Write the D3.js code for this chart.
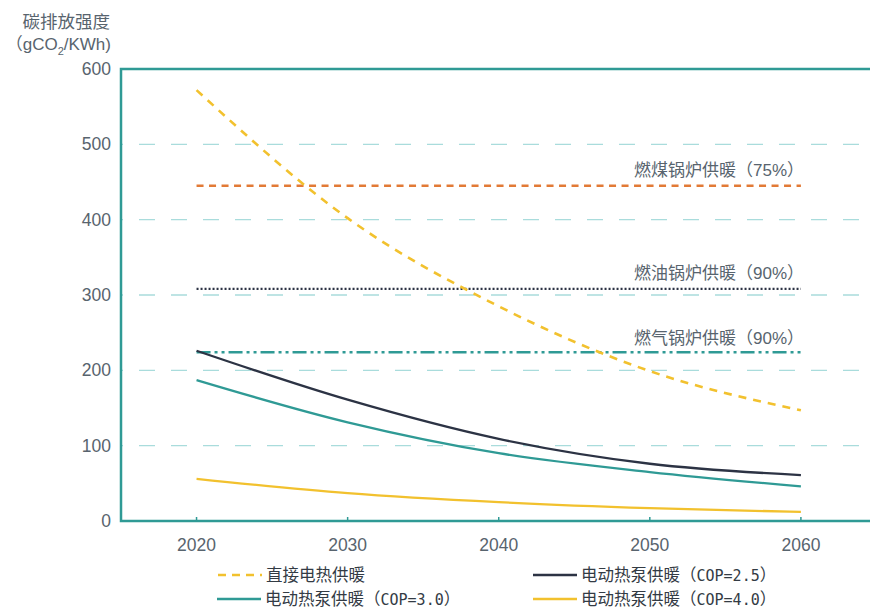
<!DOCTYPE html>
<html><head><meta charset="utf-8">
<script src="https://cdn.jsdelivr.net/npm/d3@7"></script>
<style>
body{margin:0;background:#fff;}
svg{display:block;}
text{font-family:"Liberation Sans",Arial,"Noto Sans CJK SC",sans-serif;}
.cjk{font-family:"Noto Sans CJK SC",sans-serif;}
.mono{font-family:"DejaVu Sans Mono",monospace;}
.narrow{font-family:"Liberation Sans Narrow","Liberation Sans",sans-serif;}
</style></head><body>
<svg id="c" width="870" height="609"></svg>
<script>
const years = [2020, 2030, 2040, 2050, 2060];
const directElectric = [572, 402, 285, 199, 147];
const hp25 = [226, 161, 109, 76, 61];
const hp30 = [187, 131, 90, 65, 46];
const hp40 = [56, 37, 25, 17, 12];
const coal = 445, oil = 308, gas = 224;
const yTicks = [0, 100, 200, 300, 400, 500, 600];
const refNames = ["燃煤锅炉供暖", "燃油锅炉供暖", "燃气锅炉供暖"];
const refPct = ["75%", "90%", "90%"];
const legendNames = ["直接电热供暖", "电动热泵供暖", "电动热泵供暖", "电动热泵供暖"];
const legendCop = [null, "COP=2.5", "COP=3.0", "COP=4.0"];

const svg = d3.select("#c");
const x = d3.scaleLinear().domain([2015, 2070]).range([121, 952]);
const y = d3.scaleLinear().domain([0, 600]).range([521, 69]);
const teal = "#2f9a95", navy = "#2c3344", yellow = "#f2c12e", orange = "#e27a36", grid = "#a9dcdc", txt = "#58646e";

// gridlines
svg.append("g").selectAll("line").data(yTicks.filter(d => d > 0 && d < 600)).join("line")
  .attr("x1", 121).attr("x2", 870).attr("y1", d => y(d)).attr("y2", d => y(d))
  .attr("stroke", grid).attr("stroke-width", 1.3).attr("stroke-dasharray", "16,16").attr("stroke-dashoffset", 14);

// frame
svg.append("path").attr("d", `M870,${y(600)}H${x(2015)}V${y(0)}H870`)
  .attr("fill", "none").attr("stroke", teal).attr("stroke-width", 2.5);

// y tick labels
svg.append("g").selectAll("text").data(yTicks).join("text")
  .attr("x", 111).attr("y", d => y(d)).attr("dy", "0.35em").attr("text-anchor", "end")
  .attr("fill", txt).attr("font-size", 17.5).text(d => d);

// x axis ticks + labels
const xa = svg.append("g");
xa.selectAll("line").data(years).join("line")
  .attr("x1", d => x(d)).attr("x2", d => x(d)).attr("y1", y(0) - 4).attr("y2", y(0))
  .attr("stroke", teal).attr("stroke-width", 1.5);
xa.selectAll("text").data(years).join("text")
  .attr("x", d => x(d)).attr("y", 545).attr("dy", "0.35em").attr("text-anchor", "middle")
  .attr("fill", txt).attr("font-size", 17.5).text(d => d);

// y title
svg.append("text").attr("class", "cjk").attr("x", 110).attr("y", 22).attr("dy", "0.35em").attr("text-anchor", "end")
  .attr("fill", txt).attr("font-size", 17.5).text("碳排放强度");
const t2 = svg.append("text").attr("x", 111).attr("y", 44).attr("dy", "0.35em").attr("text-anchor", "end")
  .attr("fill", txt).attr("font-size", 17);
t2.append("tspan").attr("class", "cjk").text("（");
t2.append("tspan").text("gCO");
t2.append("tspan").attr("font-size", 11).attr("dy", 5).text("2");
t2.append("tspan").attr("dy", -5).text("/KWh)");

// reference horizontal lines
const refs = [
  {v: coal, color: orange, dash: "7,5.5", w: 2.3, ly: 170},
  {v: oil, color: navy, dash: "2,2", w: 2.2, ly: 273},
  {v: gas, color: teal, dash: "14,4,3,4,3,4", w: 2.5, ly: 338}
];
refs.forEach((r, i) => {
  svg.append("line").attr("x1", x(2020)).attr("x2", x(2060)).attr("y1", y(r.v)).attr("y2", y(r.v))
    .attr("stroke", r.color).attr("stroke-width", r.w).attr("stroke-dasharray", r.dash);
  const t = svg.append("text").attr("x", 804).attr("y", r.ly).attr("dy", "0.35em").attr("text-anchor", "end")
    .attr("fill", txt).attr("font-size", 17);
  t.append("tspan").attr("class", "cjk").text(refNames[i] + "（");
  t.append("tspan").attr("class", "narrow").text(refPct[i]);
  t.append("tspan").attr("class", "cjk").text("）");
});

// series
const line = d3.line().x((d, i) => x(years[i])).y(d => y(d)).curve(d3.curveMonotoneX);
const series = [
  {vals: directElectric, color: yellow, dash: "8,7", w: 2.6},
  {vals: hp25, color: navy, dash: null, w: 2.3},
  {vals: hp30, color: teal, dash: null, w: 2.3},
  {vals: hp40, color: yellow, dash: null, w: 2.3}
];
series.forEach(s => {
  svg.append("path").datum(s.vals).attr("d", line).attr("fill", "none")
    .attr("stroke", s.color).attr("stroke-width", s.w).attr("stroke-dasharray", s.dash);
});

// legend
const legPos = [[218, 575], [533, 575], [217, 599], [533, 599]];
series.forEach((s, i) => {
  const [lx, ly] = legPos[i];
  svg.append("line").attr("x1", lx).attr("x2", lx + 44).attr("y1", ly).attr("y2", ly)
    .attr("stroke", s.color).attr("stroke-width", 2.5).attr("stroke-dasharray", s.dash ? "8,6" : null);
  const t = svg.append("text").attr("x", lx + 48).attr("y", ly).attr("dy", "0.35em")
    .attr("fill", "#333b44").attr("font-size", 16.5);
  t.append("tspan").attr("class", "cjk").text(legendNames[i] + (legendCop[i] ? "（" : ""));
  if (legendCop[i]) {
    t.append("tspan").attr("class", "mono").attr("font-size", 15).text(legendCop[i]);
    t.append("tspan").attr("class", "cjk").text("）");
  }
});
</script></body></html>
